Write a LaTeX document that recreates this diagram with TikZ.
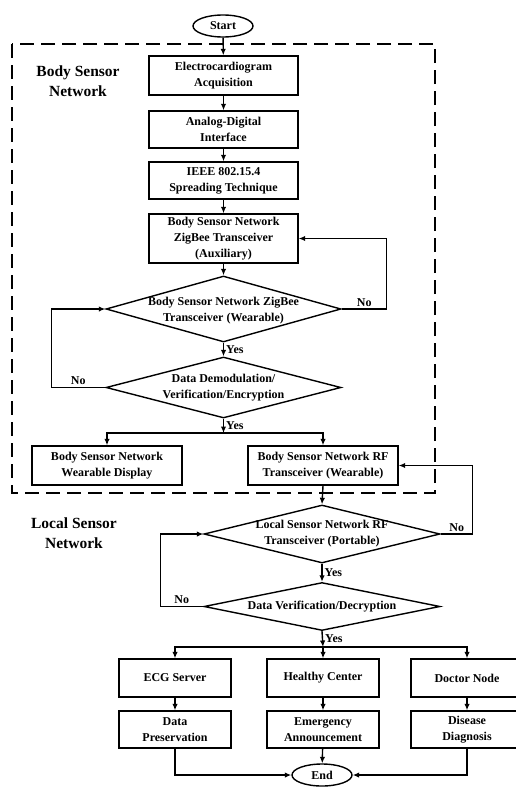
\documentclass[tikz,border=0pt]{standalone}
\usepackage{fontspec}
\setmainfont{Liberation Serif}
\usetikzlibrary{shapes.geometric,arrows.meta}

\begin{document}
\begin{tikzpicture}[x=1pt, y=-1pt,
            font=\bfseries\fontsize{12}{16}\selectfont,
            box/.style={draw, black, line width=1.4pt, rectangle, align=center, inner sep=0pt},
            decision/.style={draw, black, line width=1.4pt, diamond, inner sep=0pt},
            terminal/.style={draw, black, line width=1.4pt, ellipse, inner sep=0pt, minimum width=60pt, minimum height=22pt},
            arrow/.style={black, line width=1.4pt, -{Latex[length=6.5pt,width=5.5pt]}},
            line/.style={black, line width=1.4pt},
            tag/.style={inner sep=2pt},
            region/.style={font=\bfseries\fontsize{15.5}{20}\selectfont, align=center}]
            \useasboundingbox (0,0) rectangle (515,787);

            \draw[black, line width=1.6pt, dash pattern=on 14pt off 7pt] (12,44) rectangle (435,493);

            \node[region] (bsn) at (78,81) {Body Sensor\\Network};
            \node[region] (lsn) at (74,533) {Local Sensor\\Network};

            \node[terminal] (start) at (223,26) {Start};
            \node[box, minimum width=149pt, minimum height=39pt] (ecg) at (223.5,75.5) {Electrocardiogram\\Acquisition};
            \node[box, minimum width=149pt, minimum height=37pt] (adc) at (223.5,129.5) {Analog-Digital\\Interface};
            \node[box, minimum width=149pt, minimum height=37pt] (ieee) at (223.5,180.5) {IEEE 802.15.4\\Spreading Technique};
            \node[box, minimum width=149pt, minimum height=49pt] (aux) at (223.5,238.5) {Body Sensor Network\\ZigBee Transceiver\\(Auxiliary)};

            \node[decision, minimum width=235pt, minimum height=66pt,
                label={[align=center, yshift=-2pt]center:Body Sensor Network ZigBee\\Transceiver (Wearable)}] (wear) at (223.5,309) {};
            \node[decision, minimum width=235pt, minimum height=61pt,
                label={[align=center]center:Data Demodulation/\\Verification/Encryption}] (demod) at (223.5,387.5) {};

            \node[box, minimum width=150pt, minimum height=39pt] (disp) at (107,465.5) {Body Sensor Network\\Wearable Display};
            \node[box, minimum width=150pt, minimum height=39pt] (rfw) at (323,465.5) {Body Sensor Network RF\\Transceiver (Wearable)};

            \node[decision, minimum width=236pt, minimum height=58pt,
                label={[align=center]center:Local Sensor Network RF\\Transceiver (Portable)}] (port) at (322,534) {};
            \node[decision, minimum width=236pt, minimum height=48pt,
                label={center:Data Verification/Decryption}] (decr) at (322,606.5) {};

            \node[box, minimum width=112pt, minimum height=38pt] (server) at (175,678) {ECG Server};
            \node[box, minimum width=112pt, minimum height=38pt] (center) at (323,678) {Healthy Center};
            \node[box, minimum width=112pt, minimum height=38pt] (doctor) at (467,678) {Doctor Node};
            \node[box, minimum width=112pt, minimum height=37pt] (pres) at (175,729.5) {Data\\Preservation};
            \node[box, minimum width=112pt, minimum height=37pt] (alarm) at (323,729.5) {Emergency\\Announcement};
            \node[box, minimum width=112pt, minimum height=37pt] (diag) at (467,729.5) {Disease\\Diagnosis};

            \node[terminal] (end) at (322,775) {End};

            \coordinate (split1) at (223.5,433);
            \coordinate (split2) at (323,647);

            \draw[arrow] (start) -- (ecg);
            \draw[arrow] (ecg) -- (adc);
            \draw[arrow] (adc) -- (ieee);
            \draw[arrow] (ieee) -- (aux);
            \draw[arrow] (aux) -- (wear);

            \draw[arrow] (wear.east) -- node[tag, above] (no1) {No} ++(45,0) |- (aux.east);
            \draw[arrow] (wear.south) -- node[tag, right] (yes1) {Yes} (demod.north);
            \draw[arrow] (demod.west) -- node[tag, above] (no2) {No} ++(-54,0) |- (wear.west);
            \draw[arrow] (demod.south) -- node[tag, right] (yes2) {Yes} (split1);
            \draw[line] (disp.north |- split1) -- (rfw.north |- split1);
            \draw[arrow] (split1) -| (disp.north);
            \draw[arrow] (split1) -| (rfw.north);

            \draw[arrow] (rfw.south) -- (port.north);
            \draw[arrow] (port.east) -- node[tag, above] (no3) {No} ++(32,0) |- (rfw.east);
            \draw[arrow] (port.south) -- node[tag, right] (yes3) {Yes} (decr.north);
            \draw[arrow] (decr.west) -- node[tag, above] (no4) {No} ++(-43,0) |- (port.west);
            \draw[arrow] (decr.south) -- node[tag, right] (yes4) {Yes} (split2);
            \draw[line] (server.north |- split2) -- (doctor.north |- split2);
            \draw[arrow] (split2) -| (server.north);
            \draw[arrow] (split2) -- (center.north);
            \draw[arrow] (split2) -| (doctor.north);

            \draw[arrow] (server) -- (pres);
            \draw[arrow] (center) -- (alarm);
            \draw[arrow] (doctor) -- (diag);
            \draw[arrow] (alarm) -- (end);
            \draw[arrow] (pres.south) |- (end.west);
            \draw[arrow] (diag.south) |- (end.east);
        \end{tikzpicture}
\end{document}
